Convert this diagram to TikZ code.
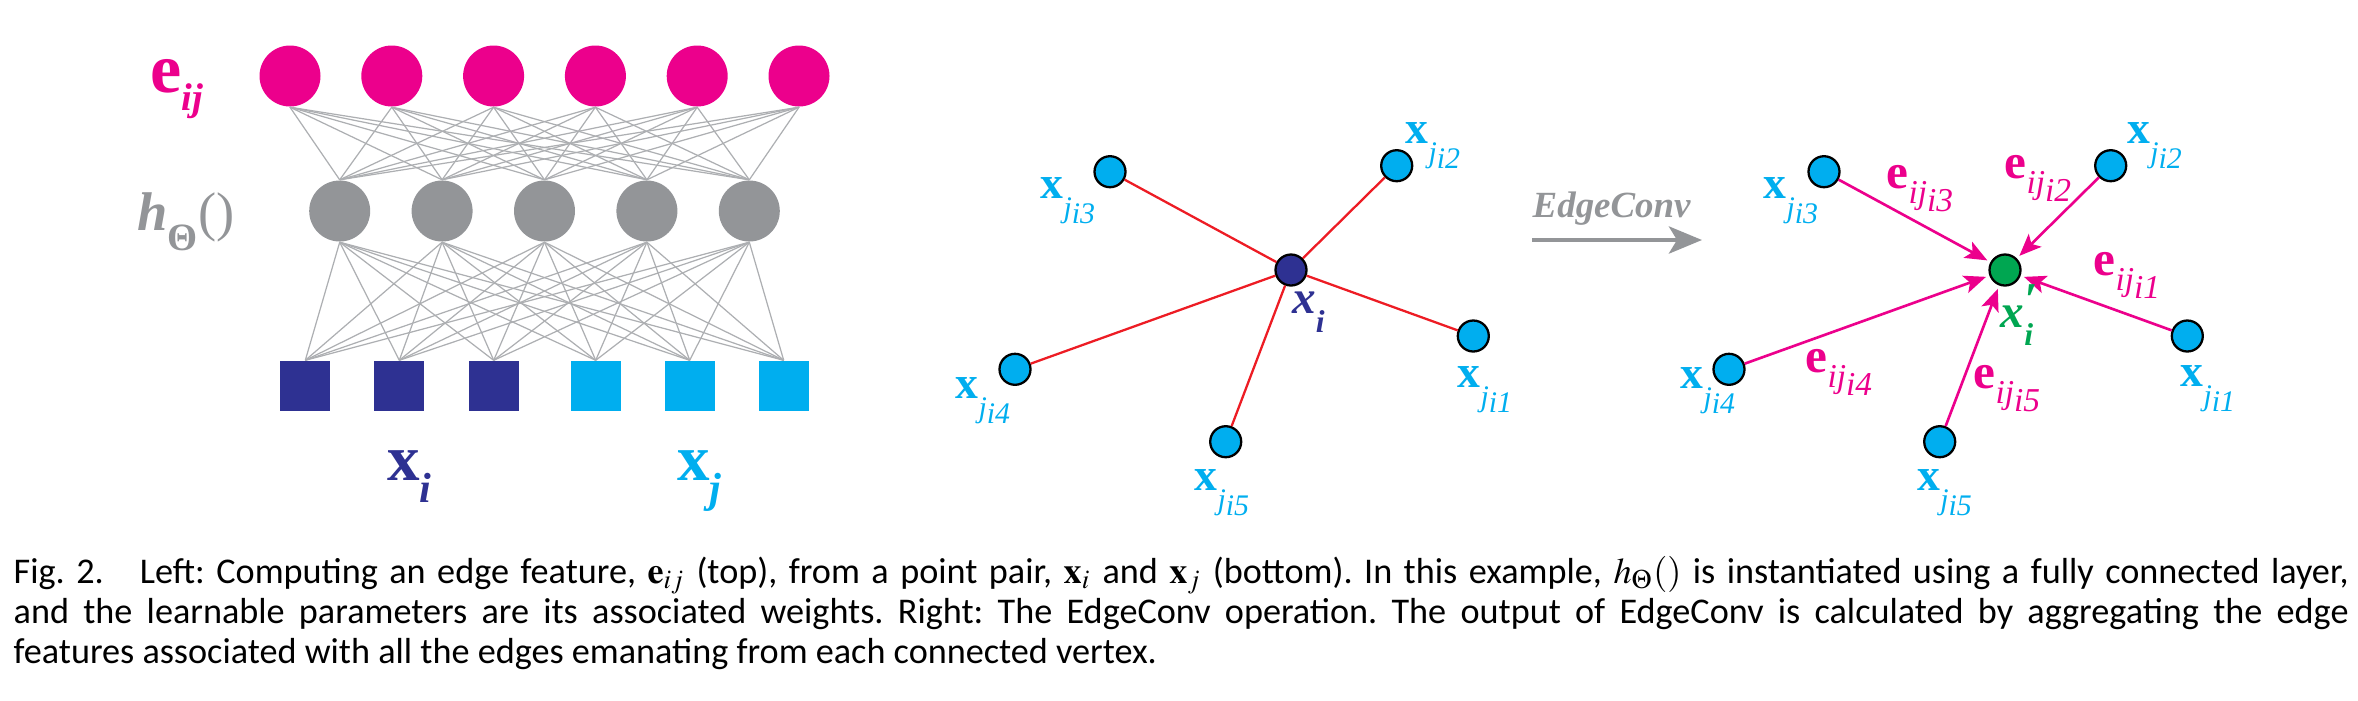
\documentclass[tikz,border=0pt]{standalone}
\usepackage{amsmath}
\usepackage{mathptmx}
\usepackage{fontspec}
\setmainfont{Liberation Serif}
\newfontfamily\lblfont{Liberation Serif}
\newfontfamily\capfont{Carlito}
\usepackage{tikz}
\usetikzlibrary{arrows.meta,positioning}

\definecolor{epink}{HTML}{EC008C}
\definecolor{hgrey}{HTML}{939598}
\definecolor{meshgrey}{HTML}{ADAFB2}
\definecolor{xblue}{HTML}{2E3192}
\definecolor{xcyan}{HTML}{00AEEF}
\definecolor{ered}{HTML}{ED1C24}
\definecolor{xgreen}{HTML}{00A651}

% neighbour label x_{j_{ik}} and edge label e_{ij_{ik}}
\newcommand{\xn}[1]{\textbf{x}\raisebox{-0.42em}{\fontsize{8.5}{9}\selectfont\itshape j\raisebox{-0.2em}{i#1}}}
\newcommand{\en}[1]{\textbf{e}\raisebox{-0.32em}{\fontsize{9.5}{10}\selectfont\itshape ij\raisebox{-0.22em}{i#1}}}

\tikzset{
  enode/.style={circle, fill=epink, minimum size=0.61cm, inner sep=0},
  hnode/.style={circle, fill=hgrey, minimum size=0.61cm, inner sep=0},
  sqnode/.style={rectangle, minimum size=0.5cm, inner sep=0},
  mesh/.style={draw=meshgrey, line width=0.35pt},
  pt/.style={circle, draw=black, line width=0.65pt, minimum size=0.31cm, inner sep=0},
  nbr/.style={pt, fill=xcyan},
  lab/.style={anchor=base west, inner sep=0},
  redline/.style={draw=ered, line width=0.65pt},
  earrow/.style={draw=epink, line width=0.75pt, shorten >=1pt,
                 -{Stealth[length=2.2mm, width=1.8mm, inset=0.5mm]}},
  convarrow/.style={draw=hgrey, line width=1.4pt,
                    -{Stealth[length=3.3mm, width=2.7mm, inset=0.8mm]}}
}

\begin{document}
\begin{tikzpicture}
  \useasboundingbox (0,0) rectangle (23.58,7);

  % left: fully connected layer
  \foreach \i in {1,...,6}
    \node[enode] (e\i) at ({1.882+1.018*\i},6.24) {};
  \foreach \i in {1,...,5}
    \node[hnode] (h\i) at ({2.373+1.024*\i},4.89) {};
  \node[sqnode, fill=xblue] (s1) at (3.053,3.14) {};
  \node[sqnode, fill=xblue] (s2) at (3.993,3.14) {};
  \node[sqnode, fill=xblue] (s3) at (4.937,3.14) {};
  \node[sqnode, fill=xcyan] (s4) at (5.957,3.14) {};
  \node[sqnode, fill=xcyan] (s5) at (6.897,3.14) {};
  \node[sqnode, fill=xcyan] (s6) at (7.837,3.14) {};
  \foreach \a in {1,...,6}
    \foreach \b in {1,...,5} {
      \draw[mesh] (s\a.north) -- (h\b.south);
      \draw[mesh] (h\b.north) -- (e\a.south);
    }

  \node[lab, text=epink, font=\lblfont\fontsize{20}{22}\selectfont] (eij) at (1.50,6.08)
    {\textbf{e}\raisebox{-0.26em}{\fontsize{11}{12}\selectfont\bfseries\itshape ij}};
  \node[lab, text=hgrey, font=\lblfont\fontsize{15.5}{18}\selectfont] (hth) at (1.37,4.70)
    {\textbf{\textit{h}}\raisebox{-0.37em}{\fontsize{11}{12}\selectfont\bfseries Θ}()};
  \node[lab, text=xblue, font=\lblfont\fontsize{18.5}{20}\selectfont] (xil) at (3.867,2.20)
    {\textbf{x}\raisebox{-0.35em}{\fontsize{12}{13}\selectfont\bfseries\itshape i}};
  \node[lab, text=xcyan, font=\lblfont\fontsize{18.5}{20}\selectfont] (xjl) at (6.767,2.20)
    {\textbf{x}\raisebox{-0.35em}{\fontsize{12}{13}\selectfont\bfseries\itshape j}};

  % middle: point x_i and its neighbours
  \node[pt, fill=xblue] (xi) at (12.91,4.30) {};
  \node[nbr] (j1) at (14.733,3.64) {};
  \node[nbr] (j2) at (13.967,5.343) {};
  \node[nbr] (j3) at (11.10,5.283) {};
  \node[nbr] (j4) at (10.15,3.307) {};
  \node[nbr] (j5) at (12.257,2.583) {};
  \foreach \k in {1,...,5}
    \draw[redline] (xi) -- (j\k);

  \node[lab, text=xblue, font=\lblfont\fontsize{13.4}{15}\selectfont] (xim) at (12.917,3.867)
    {\textbf{\textit{x}}\raisebox{-0.4em}{\fontsize{9}{10}\selectfont\bfseries\itshape i}};
  \node[lab, text=xcyan, font=\lblfont\fontsize{13}{15}\selectfont] (j1l) at (14.57,3.13) {\xn{1}};
  \node[lab, text=xcyan, font=\lblfont\fontsize{13}{15}\selectfont] (j2l) at (14.05,5.57) {\xn{2}};
  \node[lab, text=xcyan, font=\lblfont\fontsize{13}{15}\selectfont] (j3l) at (10.40,5.02) {\xn{3}};
  \node[lab, text=xcyan, font=\lblfont\fontsize{13}{15}\selectfont] (j4l) at (9.55,3.02) {\xn{4}};
  \node[lab, text=xcyan, font=\lblfont\fontsize{13}{15}\selectfont] (j5l) at (11.94,2.10) {\xn{5}};

  % EdgeConv arrow
  \node[lab, text=hgrey, font=\lblfont\fontsize{10.5}{12}\selectfont\bfseries\itshape] (ec) at (15.32,4.83) {EdgeConv};
  \coordinate (ecA) at (15.32,4.60);
  \coordinate (ecB) at (17.02,4.60);
  \draw[convarrow] (ecA) -- (ecB);

  % right: aggregated output x_i'
  \node[pt, fill=xgreen] (xo) at (20.05,4.30) {};
  \node[nbr] (k1) at (21.873,3.64) {};
  \node[nbr] (k2) at (21.107,5.343) {};
  \node[nbr] (k3) at (18.24,5.283) {};
  \node[nbr] (k4) at (17.29,3.307) {};
  \node[nbr] (k5) at (19.397,2.583) {};
  \foreach \k in {1,...,5}
    \draw[earrow] (k\k) -- (xo);

  \node[lab, text=xgreen, font=\lblfont\fontsize{13.4}{15}\selectfont] (xol) at (20.00,3.73)
    {\textbf{\textit{x}}\rlap{\raisebox{0.25em}{\bfseries\itshape\char"2032}}\raisebox{-0.4em}{\fontsize{9}{10}\selectfont\bfseries\itshape i}};
  \node[lab, text=xcyan, font=\lblfont\fontsize{13}{15}\selectfont] (k1l) at (21.80,3.133) {\xn{1}};
  \node[lab, text=xcyan, font=\lblfont\fontsize{13}{15}\selectfont] (k2l) at (21.267,5.567) {\xn{2}};
  \node[lab, text=xcyan, font=\lblfont\fontsize{13}{15}\selectfont] (k3l) at (17.63,5.02) {\xn{3}};
  \node[lab, text=xcyan, font=\lblfont\fontsize{13}{15}\selectfont] (k4l) at (16.80,3.117) {\xn{4}};
  \node[lab, text=xcyan, font=\lblfont\fontsize{13}{15}\selectfont] (k5l) at (19.167,2.10) {\xn{5}};

  \node[lab, text=epink, font=\lblfont\fontsize{14}{16}\selectfont] (ek1) at (20.93,4.25) {\en{1}};
  \node[lab, text=epink, font=\lblfont\fontsize{14}{16}\selectfont] (ek2) at (20.04,5.22) {\en{2}};
  \node[lab, text=epink, font=\lblfont\fontsize{14}{16}\selectfont] (ek3) at (18.86,5.12) {\en{3}};
  \node[lab, text=epink, font=\lblfont\fontsize{14}{16}\selectfont] (ek4) at (18.05,3.28) {\en{4}};
  \node[lab, text=epink, font=\lblfont\fontsize{14}{16}\selectfont] (ek5) at (19.73,3.12) {\en{5}};

  % caption
  \node[anchor=base west, inner sep=0, text width=23.35cm, align=justify,
        font=\capfont\fontsize{10.3}{11.4}\selectfont\frenchspacing] (cap) at (0.13,1.17)
    {Fig. 2.\quad Left: Computing an edge feature, $\mathbf{e}_{ij}$ (top), from a point pair, $\mathbf{x}_i$ and $\mathbf{x}_j$ (bottom). In this example, $h_{\Theta}()$ is instantiated using a fully connected layer,\linebreak
     and the learnable parameters are its associated weights. Right: The EdgeConv operation. The output of EdgeConv is calculated by aggregating the edge\linebreak
     features associated with all the edges emanating from each connected vertex.};
\end{tikzpicture}
\end{document}
